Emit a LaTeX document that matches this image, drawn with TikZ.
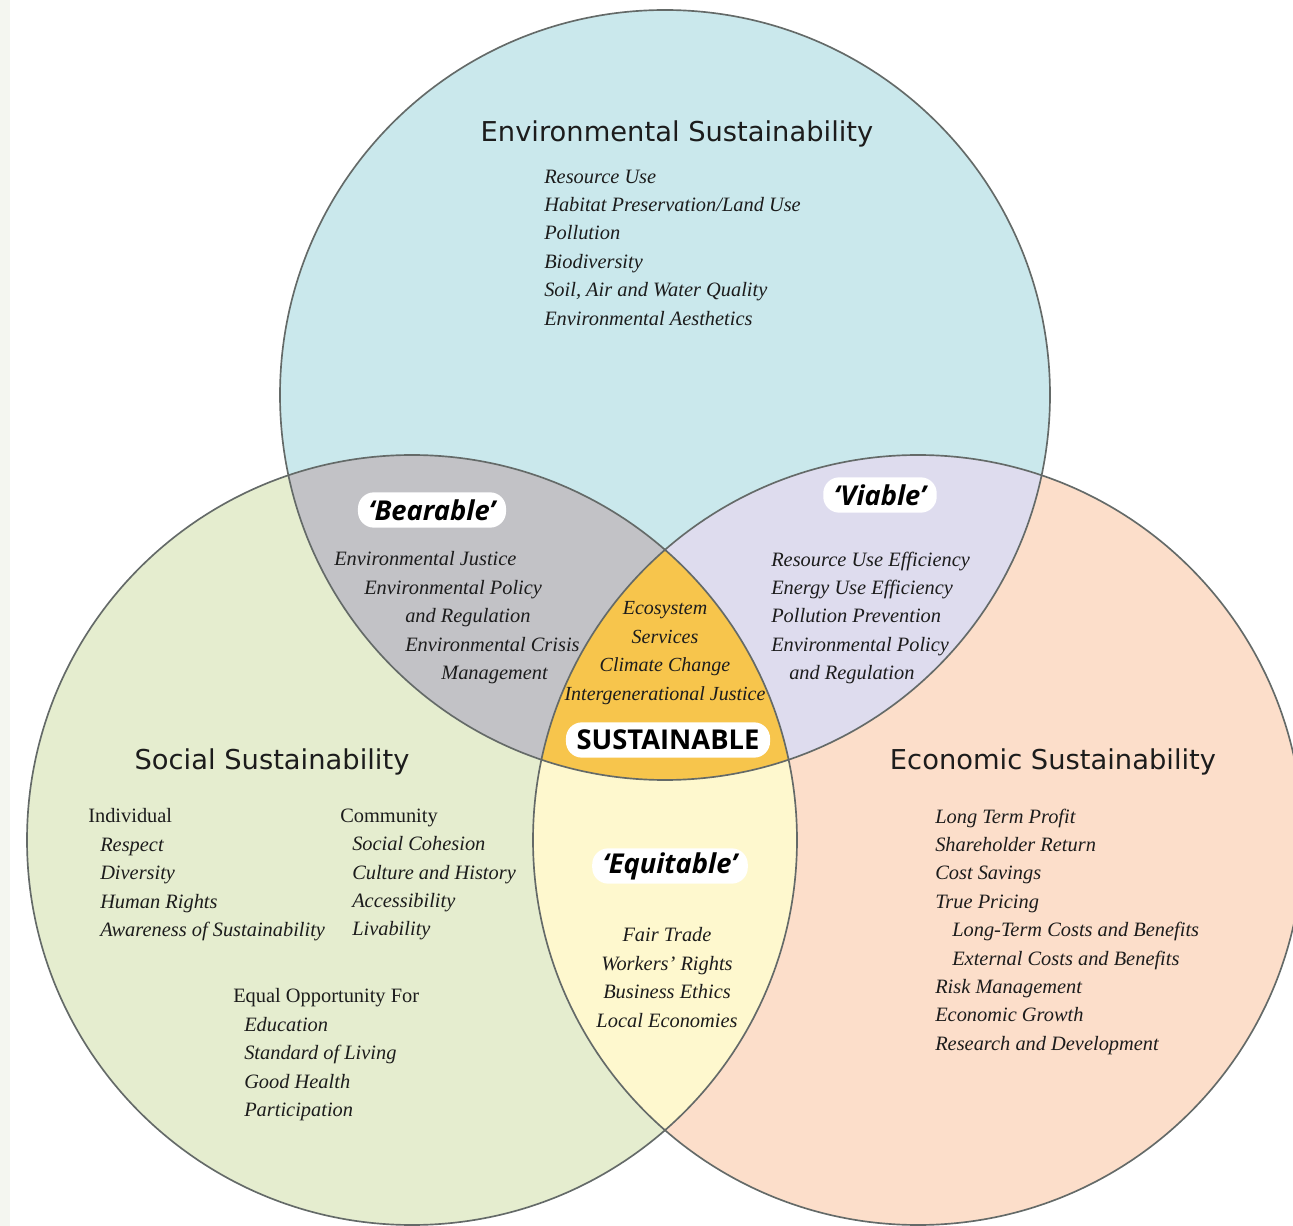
\documentclass[tikz,border=0pt]{standalone}
\usepackage{fontspec}
\setmainfont{Liberation Serif}
\newfontfamily\headfont{DejaVu Sans}
\newfontfamily\tagfont{Open Sans}
\definecolor{envblue}{RGB}{202,232,236}
\definecolor{socgreen}{RGB}{229,237,207}
\definecolor{ecopeach}{RGB}{252,222,202}
\definecolor{beargrey}{RGB}{194,194,198}
\definecolor{vialilac}{RGB}{222,220,238}
\definecolor{equiyellow}{RGB}{254,248,206}
\definecolor{sustorange}{RGB}{247,197,76}
\definecolor{rimgrey}{RGB}{100,106,104}
\definecolor{inkgrey}{RGB}{28,28,28}
\definecolor{edgestrip}{RGB}{244,246,240}

\begin{document}
\begin{tikzpicture}[x=0.75pt,y=0.75pt,yscale=-1,xscale=1,
  rim/.style={draw=rimgrey, line width=1.25pt},
  head/.style={font=\headfont\fontsize{20.5}{24}\selectfont, text=inkgrey, inner sep=0.75pt},
  tag/.style={fill=white, rounded corners=12pt, inner xsep=8pt, inner ysep=0pt, minimum height=26.5pt, text=black, font=\tagfont\bfseries\itshape\fontsize{20.5}{24}\selectfont},
  items/.style={font=\itshape\fontsize{15.3}{21.3}\selectfont, text=inkgrey, inner sep=0.75pt, align=left}]
%set diagram size to the reference
\useasboundingbox (0,0) rectangle (1293,1226);
\fill[edgestrip] (0,0) rectangle (10,1226);

\coordinate (envc) at (665,395);
\coordinate (socc) at (412,840);
\coordinate (ecoc) at (918,840);

%Shape: Circle fills
\fill[envblue] (envc) circle (385);
\fill[socgreen] (socc) circle (385);
\fill[ecopeach] (ecoc) circle (385);
%Shape: social and economic overlap
\begin{scope}
\clip (socc) circle (385);
\fill[equiyellow] (ecoc) circle (385);
\end{scope}
%Shape: overlaps with environmental circle
\begin{scope}
\clip (envc) circle (385);
\fill[beargrey] (socc) circle (385);
\fill[vialilac] (ecoc) circle (385);
\clip (socc) circle (385);
\fill[sustorange] (ecoc) circle (385);
\end{scope}
%Shape: Circle outlines
\draw[rim] (envc) circle (385);
\draw[rim] (socc) circle (385);
\draw[rim] (ecoc) circle (385);

% Text Node
\node[head, anchor=base] (envtitle) at (677,142) {Environmental Sustainability};
\node[head, anchor=base] (soctitle) at (272,769) {Social Sustainability};
\node[head, anchor=base] (ecotitle) at (1053,769) {Economic Sustainability};

% Text Node
\node[items, anchor=north west] (envlist) at (543,168.5) {Resource Use\\Habitat Preservation/Land Use\\Pollution\\Biodiversity\\Soil, Air and Water Quality\\Environmental Aesthetics};

% Text Node
\node[tag] (bearable) at (432,510) {‘Bearable’};
\node[tag] (viable) at (880,495) {‘Viable’};
\node[tag] (equitable) at (670,866) {‘Equitable’};
\node[tag, font=\tagfont\bfseries\fontsize{20.5}{24}\selectfont] (sustainable) at (668,740) {SUSTAINABLE};

% Text Node
\node[items, anchor=north west] (bearlist) at (333,550.5) {Environmental Justice\\\hspace*{22.5pt}Environmental Policy\\\hspace*{53.25pt}and Regulation\\\hspace*{53.25pt}Environmental Crisis\\\hspace*{80.25pt}Management};
\node[items, anchor=north west] (vialist) at (770,550.5) {Resource Use Efficiency\\Energy Use Efficiency\\Pollution Prevention\\Environmental Policy\\\hspace*{13.5pt}and Regulation};
\node[items, align=center, anchor=north, font=\itshape\fontsize{15}{21.3}\selectfont] (sustlist) at (665,600.5) {Ecosystem\\Services\\Climate Change\\Intergenerational Justice};
\node[items, align=center, anchor=north] (equilist) at (667,926.5) {Fair Trade\\Workers’ Rights\\Business Ethics\\Local Economies};

% Text Node
\node[items, anchor=north west] (indivlist) at (87,807.5) {{\upshape Individual}\\\hspace*{9pt}Respect\\\hspace*{9pt}Diversity\\\hspace*{9pt}Human Rights\\\hspace*{9pt}Awareness of Sustainability};
\node[items, anchor=north west] (commlist) at (339,807.5) {{\upshape Community}\\\hspace*{9pt}Social Cohesion\\\hspace*{9pt}Culture and History\\\hspace*{9pt}Accessibility\\\hspace*{9pt}Livability};
\node[items, anchor=north west] (equallist) at (232,987.5) {{\upshape Equal Opportunity For}\\\hspace*{8.25pt}Education\\\hspace*{8.25pt}Standard of Living\\\hspace*{8.25pt}Good Health\\\hspace*{8.25pt}Participation};
\node[items, anchor=north west] (ecolist) at (934,807.5) {Long Term Profit\\Shareholder Return\\Cost Savings\\True Pricing\\\hspace*{12.75pt}Long-Term Costs and Benefits\\\hspace*{12.75pt}External Costs and Benefits\\Risk Management\\Economic Growth\\Research and Development};
\end{tikzpicture}
\end{document}
